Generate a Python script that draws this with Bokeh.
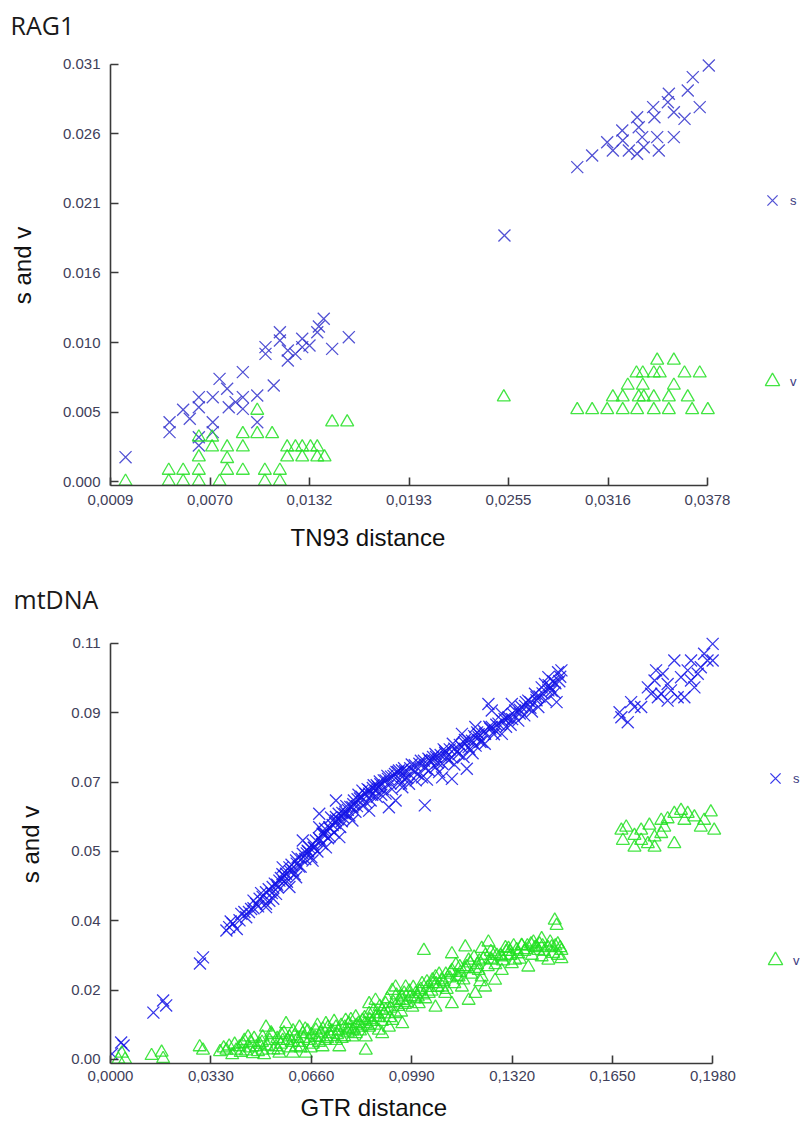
from bokeh.plotting import figure
from bokeh.models import Range1d, FixedTicker, Legend, LegendItem, Title
from bokeh.layouts import column
from bokeh.embed import file_html
from bokeh.resources import INLINE

# ---------------- RAG1 data ----------------
rag_s_x = [0.00183, 0.00455, 0.00455, 0.00539, 0.00580, 0.00636, 0.00636, 0.00636, 0.00636,
           0.00722, 0.00722, 0.00722, 0.00764, 0.00811, 0.00821, 0.00863, 0.00908, 0.00908,
           0.00908, 0.00997, 0.00997, 0.01048, 0.01048, 0.01099, 0.01137, 0.01137, 0.01186,
           0.01186, 0.01233, 0.01275, 0.01275, 0.01320, 0.01368, 0.01378, 0.01408, 0.01460,
           0.01563, 0.02525,
           0.02975, 0.03067, 0.03160, 0.03195, 0.03253, 0.03256, 0.03294, 0.03345, 0.03355,
           0.03376, 0.03345, 0.03386, 0.03444, 0.03452, 0.03469, 0.03479, 0.03541, 0.03535,
           0.03572, 0.03572, 0.03638, 0.03658, 0.03689, 0.03732, 0.03788]
rag_s_y = [0.00181, 0.00441, 0.00367, 0.00533, 0.00466, 0.00627, 0.00552, 0.00268, 0.00329,
           0.00627, 0.00441, 0.00367, 0.00763, 0.00689, 0.00552, 0.00590, 0.00813, 0.00627,
           0.00540, 0.00639, 0.00441, 0.00999, 0.00949, 0.00714, 0.01110, 0.01048, 0.00974,
           0.00900, 0.00949, 0.01061, 0.00999, 0.01011, 0.01110, 0.01152, 0.01210, 0.00986,
           0.01073, 0.01829,
           0.02337, 0.02423, 0.02522, 0.02461, 0.02609, 0.02535, 0.02461, 0.02708, 0.02634,
           0.02560, 0.02436, 0.02485, 0.02783, 0.02708, 0.02560, 0.02461, 0.02882, 0.02820,
           0.02745, 0.02560, 0.02696, 0.02907, 0.03006, 0.02783, 0.03093]

rag_v_x = [0.00183, 0.00450, 0.00450, 0.00539, 0.00539, 0.00636, 0.00636, 0.00636, 0.00636,
           0.00718, 0.00718, 0.00764, 0.00811, 0.00811, 0.00811, 0.00908, 0.00908, 0.00908,
           0.00997, 0.00997, 0.01044, 0.01044, 0.01089, 0.01137, 0.01137, 0.01182, 0.01182,
           0.01233, 0.01275, 0.01275, 0.01326, 0.01368, 0.01368, 0.01413, 0.01460, 0.01553,
           0.02521,
           0.02975, 0.03067, 0.03160, 0.03256, 0.03345, 0.03448, 0.03541, 0.03685, 0.03782,
           0.03195, 0.03256, 0.03355, 0.03386, 0.03448, 0.03541, 0.03658,
           0.03287, 0.03380, 0.03572,
           0.03341, 0.03380, 0.03448, 0.03485, 0.03638, 0.03732,
           0.03469, 0.03572]
rag_v_y = [0.0, 0.00082, 0.0, 0.00082, 0.0, 0.00082, 0.0, 0.00181, 0.00329,
           0.00329, 0.00255, 0.0, 0.00255, 0.00169, 0.00082, 0.00354, 0.00255, 0.00082,
           0.00528, 0.00354, 0.00082, 0.0, 0.00354, 0.00082, 0.0, 0.00255, 0.00181,
           0.00255, 0.00181, 0.00255, 0.00255, 0.00255, 0.00181, 0.00181, 0.00441, 0.00441,
           0.00627,
           0.00533, 0.00533, 0.00533, 0.00533, 0.00533, 0.00533, 0.00533, 0.00533, 0.00533,
           0.00627, 0.00627, 0.00627, 0.00627, 0.00627, 0.00627, 0.00627,
           0.00714, 0.00714, 0.00714,
           0.00805, 0.00805, 0.00805, 0.00805, 0.00805, 0.00805,
           0.00900, 0.00900]

rag_xticks = [0.0009, 0.00705, 0.0132, 0.01935, 0.0255, 0.03165, 0.0378]
rag_xlabels = ["0,0009", "0,0070", "0,0132", "0,0193", "0,0255", "0,0316", "0,0378"]
rag_yticks = [0.0, 0.0051667, 0.0103333, 0.0155, 0.0206667, 0.0258333, 0.031]
rag_ylabels = ["0.000", "0.005", "0.010", "0.016", "0.021", "0.026", "0.031"]

# ---------------- mtDNA data ----------------
mt_s_x = [0.0005, 0.0043, 0.0035, 0.0141, 0.0173, 0.0183, 0.0294, 0.0304,
          0.0381, 0.0402, 0.0424, 0.0446, 0.0462, 0.0479, 0.0511, 0.0511, 0.0533, 0.0555,
          0.0577, 0.0588, 0.0610, 0.0632, 0.0653, 0.0675, 0.0697, 0.0719, 0.0741,
          0.0511, 0.0544, 0.0588, 0.0522, 0.0610, 0.0664, 0.0708, 0.0752, 0.0566, 0.0632, 0.0686,
          0.0390, 0.0440, 0.0470, 0.0490, 0.0500, 0.0530, 0.0540, 0.0560, 0.0570, 0.0600,
          0.0620, 0.0640, 0.0650, 0.0670, 0.0690, 0.0700, 0.0720, 0.0730, 0.0760, 0.0770,
          0.0780, 0.0810, 0.0820, 0.0840, 0.0860, 0.0880, 0.0890, 0.0920, 0.0930, 0.0950,
          0.0795, 0.0850, 0.0904, 0.0948, 0.0741, 0.0828, 0.0871, 0.0904, 0.0937, 0.0795,
          0.0686, 0.0850, 0.0915, 0.0741,
          0.0959, 0.0981, 0.1003, 0.1024, 0.1046, 0.1068, 0.1090, 0.1111, 0.1122, 0.1144,
          0.1155, 0.1177, 0.1188, 0.1210, 0.1231, 0.1242, 0.1253, 0.1275, 0.1286, 0.1308,
          0.1330, 0.1351, 0.1373, 0.1395, 0.1417, 0.1428, 0.1439, 0.1466, 0.1471, 0.1482,
          0.1033, 0.1122, 0.1171, 0.1253, 0.1319, 0.1230, 0.1340, 0.1406, 0.1439, 0.1286,
          0.1199, 0.1155, 0.1068, 0.1090,
          0.1050, 0.1100, 0.1130, 0.1160, 0.1200, 0.1000, 0.0970, 0.1040, 0.1080, 0.1190,
          0.1220, 0.1260, 0.1300, 0.1320, 0.1360, 0.1380, 0.1400, 0.1440, 0.1455, 0.1460,
          0.0395, 0.0415, 0.0430, 0.0455, 0.0470, 0.0485, 0.0495, 0.0520, 0.0535, 0.0550,
          0.0565, 0.0580, 0.0595, 0.0605, 0.0615, 0.0625, 0.0645, 0.0660, 0.0665, 0.0680,
          0.0695, 0.0705, 0.0715, 0.0725, 0.0735, 0.0750, 0.0755, 0.0765, 0.0775, 0.0785,
          0.0800, 0.0805, 0.0815, 0.0830, 0.0845, 0.0855, 0.0865, 0.0875, 0.0885, 0.0895,
          0.0910, 0.0925, 0.0940, 0.0955, 0.0965, 0.0975, 0.0990, 0.1010, 0.1020, 0.1035,
          0.1060, 0.1075, 0.1095, 0.1105, 0.1125, 0.1140, 0.1165, 0.1180, 0.1205, 0.1215,
          0.1245, 0.1265, 0.1295, 0.1315, 0.1345, 0.1365, 0.1385, 0.1410, 0.1430, 0.1450,
          0.1475,
          0.0548, 0.0572, 0.0590, 0.0612, 0.0628, 0.0648, 0.0668, 0.0685, 0.0702, 0.0722,
          0.0738, 0.0748, 0.0762, 0.0772, 0.0788, 0.0798, 0.0812, 0.0825, 0.0838, 0.0850,
          0.0862, 0.0875, 0.0887, 0.0898, 0.0912, 0.0922, 0.0935, 0.0945, 0.0958, 0.0968,
          0.0985, 0.1000, 0.1015, 0.1030, 0.1045, 0.1058, 0.1070, 0.1085, 0.1100, 0.1115,
          0.1130, 0.1148, 0.1162, 0.1175, 0.1195, 0.1210, 0.1228, 0.1248, 0.1268, 0.1288,
          0.1305, 0.1325, 0.1345, 0.1362, 0.1380, 0.1400, 0.1420, 0.1445, 0.1462, 0.1478,
          0.1673, 0.1700, 0.1679, 0.1711, 0.1744, 0.1766, 0.1788, 0.1810, 0.1831, 0.1853,
          0.1875, 0.1897, 0.1908, 0.1919, 0.1940, 0.1951, 0.1979, 0.1979, 0.1864, 0.1831,
          0.1886, 0.1908, 0.1793, 0.1815, 0.1722, 0.1777, 0.1799, 0.1842, 0.1930, 0.1962]
mt_s_y = [0.0015, 0.0037, 0.0045, 0.0124, 0.0156, 0.0143, 0.0254, 0.0270,
          0.0341, 0.0359, 0.0368, 0.0376, 0.0398, 0.0412, 0.0412, 0.0442, 0.0456, 0.0473,
          0.0491, 0.0508, 0.0526, 0.0544, 0.0561, 0.0579, 0.0597, 0.0614, 0.0632,
          0.0403, 0.0438, 0.0456, 0.0420, 0.0482, 0.0526, 0.0561, 0.0588, 0.0508, 0.0579, 0.0614,
          0.0350, 0.0390, 0.0400, 0.0425, 0.0430, 0.0440, 0.0465, 0.0480, 0.0470, 0.0500,
          0.0510, 0.0530, 0.0550, 0.0560, 0.0580, 0.0600, 0.0590, 0.0620, 0.0630, 0.0650,
          0.0660, 0.0670, 0.0690, 0.0680, 0.0700, 0.0720, 0.0700, 0.0730, 0.0750, 0.0740,
          0.0667, 0.0703, 0.0738, 0.0764, 0.0685, 0.0711, 0.0711, 0.0703, 0.0685, 0.0632,
          0.0650, 0.0658, 0.0667, 0.0641,
          0.0720, 0.0729, 0.0738, 0.0746, 0.0764, 0.0773, 0.0782, 0.0791, 0.0799, 0.0808,
          0.0826, 0.0826, 0.0843, 0.0852, 0.0861, 0.0940, 0.0879, 0.0888, 0.0914, 0.0905,
          0.0923, 0.0932, 0.0949, 0.0967, 0.0984, 0.0993, 0.0976, 0.0945, 0.1024, 0.1029,
          0.0672, 0.0742, 0.0769, 0.0923, 0.0940, 0.0835, 0.0896, 0.0932, 0.1011, 0.0861,
          0.0879, 0.0861, 0.0808, 0.0746,
          0.0790, 0.0810, 0.0780, 0.0800, 0.0830, 0.0760, 0.0745, 0.0740, 0.0760, 0.0810,
          0.0840, 0.0860, 0.0880, 0.0900, 0.0910, 0.0930, 0.0950, 0.0990, 0.1000, 0.0970,
          0.0365, 0.0345, 0.0385, 0.0390, 0.0420, 0.0405, 0.0440, 0.0450, 0.0425, 0.0455,
          0.0490, 0.0470, 0.0515, 0.0490, 0.0535, 0.0510, 0.0545, 0.0535, 0.0570, 0.0550,
          0.0570, 0.0610, 0.0585, 0.0640, 0.0600, 0.0650, 0.0615, 0.0640, 0.0670, 0.0645,
          0.0685, 0.0655, 0.0700, 0.0670, 0.0715, 0.0685, 0.0725, 0.0695, 0.0735, 0.0715,
          0.0750, 0.0715, 0.0760, 0.0730, 0.0770, 0.0745, 0.0780, 0.0755, 0.0790, 0.0770,
          0.0800, 0.0785, 0.0820, 0.0800, 0.0835, 0.0815, 0.0845, 0.0820, 0.0865, 0.0840,
          0.0880, 0.0870, 0.0900, 0.0885, 0.0915, 0.0945, 0.0920, 0.0960, 0.0950, 0.0975,
          0.1000,
          0.0462, 0.0485, 0.0498, 0.0518, 0.0530, 0.0552, 0.0560, 0.0585, 0.0595, 0.0610,
          0.0625, 0.0635, 0.0652, 0.0655, 0.0668, 0.0675, 0.0688, 0.0695, 0.0702, 0.0712,
          0.0718, 0.0725, 0.0728, 0.0738, 0.0742, 0.0748, 0.0755, 0.0760, 0.0765, 0.0762,
          0.0770, 0.0778, 0.0782, 0.0790, 0.0795, 0.0792, 0.0800, 0.0805, 0.0815, 0.0820,
          0.0822, 0.0832, 0.0838, 0.0845, 0.0855, 0.0860, 0.0868, 0.0875, 0.0885, 0.0895,
          0.0902, 0.0912, 0.0925, 0.0935, 0.0945, 0.0958, 0.0968, 0.0985, 0.0995, 0.1012,
          0.0918, 0.0892, 0.0905, 0.0945, 0.0932, 0.0984, 0.1002, 0.0967, 0.0993, 0.1055,
          0.1011, 0.1029, 0.1055, 0.0984, 0.1037, 0.1073, 0.1099, 0.1055, 0.0958, 0.0949,
          0.0958, 0.1002, 0.1029, 0.1020, 0.0932, 0.0967, 0.0958, 0.0976, 0.1020, 0.1055]

mt_v_x = [0.0026, 0.0048, 0.0037, 0.0135, 0.0168, 0.0173, 0.0293, 0.0304,
          0.0381, 0.0413, 0.0435, 0.0452, 0.0479, 0.0511, 0.0523, 0.0544, 0.0577, 0.0588,
          0.0610, 0.0632, 0.0653, 0.0675, 0.0697, 0.0719, 0.0741, 0.0752, 0.0784, 0.0806,
          0.0828, 0.0850, 0.0871, 0.0893, 0.0915, 0.0850, 0.0871, 0.0926, 0.0937, 0.0904,
          0.0948, 0.0926,
          0.0424, 0.0468, 0.0500, 0.0555, 0.0599, 0.0642, 0.0500, 0.0566, 0.0621, 0.0686,
          0.0741, 0.0795, 0.0839, 0.0882, 0.0708, 0.0773, 0.0806, 0.0850, 0.0893, 0.0937,
          0.0839,
          0.0959, 0.0970, 0.1030, 0.1122, 0.1166, 0.1220, 0.1242, 0.1308, 0.1351, 0.1390,
          0.1417, 0.1460, 0.1466, 0.1471, 0.1482, 0.1439, 0.1373, 0.1319, 0.1286, 0.1264,
          0.1231, 0.1199, 0.1177, 0.1122, 0.1068, 0.1013, 0.0992, 0.0959, 0.1090, 0.1144,
          0.1210, 0.1253, 0.1177, 0.1122, 0.1068, 0.1024, 0.1003, 0.1046, 0.1100, 0.1155,
          0.1220, 0.1286, 0.1340, 0.1406, 0.1450, 0.1482, 0.1330, 0.1417,
          0.0360, 0.0390, 0.0400, 0.0445, 0.0460, 0.0490, 0.0505, 0.0530, 0.0535, 0.0560,
          0.0570, 0.0595, 0.0600, 0.0615, 0.0625, 0.0640, 0.0660, 0.0665, 0.0680, 0.0690,
          0.0705, 0.0715, 0.0725, 0.0735, 0.0750, 0.0760, 0.0770, 0.0780, 0.0790, 0.0800,
          0.0815, 0.0820, 0.0835, 0.0845, 0.0860, 0.0865, 0.0880, 0.0885, 0.0900, 0.0910,
          0.0920, 0.0940, 0.0955, 0.0965, 0.0975, 0.0985, 0.0995, 0.1010, 0.1020, 0.1035,
          0.1040, 0.1055, 0.1060, 0.1075, 0.1080, 0.1095, 0.1105, 0.1115, 0.1130, 0.1135,
          0.1150, 0.1160, 0.1170, 0.1185, 0.1195, 0.1205, 0.1215, 0.1225, 0.1240, 0.1250,
          0.1265, 0.1270, 0.1290, 0.1300, 0.1315, 0.1325, 0.1345, 0.1360, 0.1370, 0.1385,
          0.1395, 0.1410, 0.1425, 0.1445, 0.1455, 0.1470, 0.1478,
          0.0372, 0.0408, 0.0428, 0.0440, 0.0458, 0.0472, 0.0485, 0.0498, 0.0515, 0.0528,
          0.0548, 0.0552, 0.0562, 0.0582, 0.0592, 0.0605, 0.0620, 0.0635, 0.0648, 0.0658,
          0.0672, 0.0685, 0.0698, 0.0712, 0.0728, 0.0745, 0.0758, 0.0768, 0.0782, 0.0795,
          0.0808, 0.0825, 0.0838, 0.0852, 0.0868, 0.0878, 0.0892, 0.0905, 0.0918, 0.0930,
          0.0945, 0.0958, 0.0968, 0.0982, 0.1000, 0.1015, 0.1028, 0.1042, 0.1058, 0.1070,
          0.1088, 0.1102, 0.1118, 0.1138, 0.1148, 0.1165, 0.1182, 0.1198, 0.1212, 0.1232,
          0.1248, 0.1262, 0.1282, 0.1298, 0.1312, 0.1335, 0.1352, 0.1365, 0.1382, 0.1400,
          0.1420, 0.1438, 0.1462,
          0.1695, 0.1684, 0.1722, 0.1744, 0.1771, 0.1766, 0.1788, 0.1810, 0.1831, 0.1853,
          0.1875, 0.1897, 0.1919, 0.1951, 0.1973, 0.1984, 0.1853, 0.1820, 0.1788, 0.1722,
          0.1744, 0.1886, 0.1940, 0.1810, 0.1679]
mt_v_y = [0.0, 0.0, 0.0016, 0.0010, 0.0019, 0.0002, 0.0033, 0.0024,
          0.0024, 0.0024, 0.0041, 0.0059, 0.0033, 0.0085, 0.0050, 0.0033, 0.0094, 0.0059,
          0.0033, 0.0068, 0.0050, 0.0077, 0.0033, 0.0068, 0.0085, 0.0033, 0.0094, 0.0068,
          0.0103, 0.0085, 0.0112, 0.0068, 0.0085, 0.0147, 0.0156, 0.0182, 0.0191, 0.0147,
          0.0156, 0.0103,
          0.0033, 0.0015, 0.0024, 0.0016, 0.0016, 0.0016, 0.0059, 0.0050, 0.0085, 0.0059,
          0.0050, 0.0059, 0.0059, 0.0077, 0.0094, 0.0103, 0.0112, 0.0121, 0.0130, 0.0121,
          0.0024,
          0.0094, 0.0191, 0.0288, 0.0279, 0.0297, 0.0293, 0.0310, 0.0293, 0.0301, 0.0310,
          0.0319, 0.0368, 0.0354, 0.0275, 0.0266, 0.0262, 0.0244, 0.0253, 0.0235, 0.0209,
          0.0191, 0.0174, 0.0156, 0.0147, 0.0138, 0.0147, 0.0138, 0.0156, 0.0191, 0.0218,
          0.0235, 0.0262, 0.0262, 0.0235, 0.0218, 0.0200, 0.0174, 0.0174, 0.0174, 0.0191,
          0.0218, 0.0271, 0.0279, 0.0288, 0.0297, 0.0288, 0.0262, 0.0271,
          0.0020, 0.0035, 0.0012, 0.0022, 0.0045, 0.0040, 0.0012, 0.0065, 0.0025, 0.0040,
          0.0070, 0.0045, 0.0075, 0.0055, 0.0030, 0.0080, 0.0065, 0.0040, 0.0090, 0.0070,
          0.0050, 0.0085, 0.0060, 0.0100, 0.0075, 0.0055, 0.0085, 0.0070, 0.0105, 0.0080,
          0.0095, 0.0075, 0.0110, 0.0090, 0.0100, 0.0130, 0.0110, 0.0140, 0.0120, 0.0160,
          0.0135, 0.0170, 0.0125, 0.0175, 0.0150, 0.0165, 0.0190, 0.0165, 0.0185, 0.0160,
          0.0205, 0.0180, 0.0200, 0.0190, 0.0225, 0.0205, 0.0185, 0.0215, 0.0200, 0.0250,
          0.0230, 0.0210, 0.0245, 0.0225, 0.0270, 0.0250, 0.0205, 0.0265, 0.0245, 0.0285,
          0.0250, 0.0275, 0.0260, 0.0285, 0.0275, 0.0300, 0.0265, 0.0285, 0.0300, 0.0275,
          0.0295, 0.0305, 0.0285, 0.0310, 0.0280, 0.0305, 0.0295,
          0.0030, 0.0040, 0.0018, 0.0050, 0.0030, 0.0055, 0.0020, 0.0045, 0.0035, 0.0070,
          0.0055, 0.0025, 0.0065, 0.0050, 0.0030, 0.0062, 0.0045, 0.0055, 0.0075, 0.0030,
          0.0058, 0.0045, 0.0080, 0.0055, 0.0075, 0.0065, 0.0090, 0.0060, 0.0080, 0.0075,
          0.0090, 0.0085, 0.0095, 0.0105, 0.0090, 0.0120, 0.0100, 0.0130, 0.0110, 0.0150,
          0.0140, 0.0165, 0.0145, 0.0180, 0.0160, 0.0180, 0.0170, 0.0190, 0.0210, 0.0200,
          0.0210, 0.0225, 0.0230, 0.0220, 0.0245, 0.0240, 0.0255, 0.0240, 0.0260, 0.0275,
          0.0265, 0.0280, 0.0275, 0.0295, 0.0285, 0.0290, 0.0300, 0.0290, 0.0305, 0.0298,
          0.0300, 0.0295, 0.0300,
          0.0614, 0.0579, 0.0592, 0.0579, 0.0619, 0.0570, 0.0588, 0.0597, 0.0636, 0.0650,
          0.0658, 0.0650, 0.0641, 0.0632, 0.0654, 0.0606, 0.0570, 0.0614, 0.0561, 0.0561,
          0.0606, 0.0632, 0.0614, 0.0632, 0.0606]

mt_xticks = [0.0, 0.033, 0.066, 0.099, 0.132, 0.165, 0.198]
mt_xlabels = ["0,0000", "0,0330", "0,0660", "0,0990", "0,1320", "0,1650", "0,1980"]
mt_yticks = [0.0, 0.0183333, 0.0366667, 0.055, 0.0733333, 0.0916667, 0.11]
mt_ylabels = ["0.00", "0.02", "0.04", "0.05", "0.07", "0.09", "0.11"]

LABEL_FONT = "Liberation Sans"
TICK_COLOR = "#40405a"
AXIS_COLOR = "#3a3a3a"
V_COLOR = "#22e022"


def make_plot(title, xr, yr, height, mb_top, mb_bottom, mb_left, title_offset, title_standoff,
              sx, sy, vx, vy, xticks, xlabels, yticks, ylabels, xlab, xlab_offset, xlab_standoff,
              xtick_standoff, legend_loc, legend_spacing, s_color, s_alpha):
    p = figure(width=800, height=height, x_range=Range1d(*xr), y_range=Range1d(*yr),
               output_backend="svg", toolbar_location=None,
               min_border_top=mb_top, min_border_bottom=mb_bottom,
               min_border_left=mb_left, min_border_right=0)
    p.outline_line_color = None
    p.grid.visible = False
    p.background_fill_color = "white"

    p.title.text = title
    p.title.align = "left"
    p.title.offset = title_offset
    p.title.standoff = title_standoff
    p.title.text_font = "Open Sans"
    p.title.text_font_size = "25px"
    p.title.text_font_style = "normal"
    p.title.text_color = "#1a1a1a"

    xa = p.xaxis[0]
    ya = p.yaxis[0]
    xa.ticker = FixedTicker(ticks=xticks)
    xa.major_label_overrides = dict(zip(xticks, xlabels))
    ya.ticker = FixedTicker(ticks=yticks)
    ya.major_label_overrides = dict(zip(yticks, ylabels))
    xa.bounds = (xticks[0], xticks[-1])
    ya.bounds = (yr[0], yticks[-1])
    for ax in (xa, ya):
        ax.axis_line_color = AXIS_COLOR
        ax.axis_line_width = 1.6
        ax.major_tick_line_color = AXIS_COLOR
        ax.major_tick_line_width = 1.6
        ax.major_tick_in = 8
        ax.major_tick_out = 0
        ax.minor_tick_line_color = None
        ax.major_label_text_font = LABEL_FONT
        ax.major_label_text_font_size = "15px"
        ax.major_label_text_color = TICK_COLOR
    xa.major_label_standoff = xtick_standoff
    ya.major_label_standoff = 10
    ya.axis_label = "s and v"
    ya.axis_label_text_font = LABEL_FONT
    ya.axis_label_text_font_size = "24px"
    ya.axis_label_text_font_style = "normal"
    ya.axis_label_text_color = "#111111"
    ya.axis_label_standoff = 24

    p.add_layout(Title(text=xlab, align="left", offset=xlab_offset, standoff=xlab_standoff,
                       text_font=LABEL_FONT, text_font_size="24px", text_font_style="normal",
                       text_color="#111111"), "below")

    rs = p.scatter(sx, sy, marker="x", size=17, line_color=s_color, line_width=1.3,
                   line_alpha=s_alpha)
    rv = p.scatter(vx, vy, marker="triangle", size=13, fill_color=None, line_color=V_COLOR,
                   line_width=1.3, line_alpha=0.85)

    leg = Legend(items=[LegendItem(label="s", renderers=[rs]),
                        LegendItem(label="v", renderers=[rv])],
                 location=legend_loc, orientation="vertical", spacing=legend_spacing,
                 padding=0, margin=0, glyph_width=36, glyph_height=36,
                 label_standoff=0, label_height=14, label_text_font=LABEL_FONT,
                 label_text_font_size="13px", label_text_color="#3a3a80",
                 background_fill_alpha=0, border_line_alpha=0)
    p.add_layout(leg)
    return p


# top: frame x 110..800, y 45..485 ; bottom: frame x 107..800, y 625..1063 (page 569..1133)
p1 = make_plot("RAG1", (0.0009, 0.043548), (-0.000297, 0.032412), 569, 45, 84, 110, -100, 8,
               rag_s_x, rag_s_y, rag_v_x, rag_v_y, rag_xticks, rag_xlabels, rag_yticks, rag_ylabels,
               "TN93 distance", 180, 28, 9, (644, 86), 145, "#3434cc", 0.85)
p2 = make_plot("mtDNA", (0.0, 0.226767), (-0.001058, 0.114759), 564, 56, 70, 107, -97, 19,
               mt_s_x, mt_s_y, mt_v_x, mt_v_y, mt_xticks, mt_xlabels, mt_yticks, mt_ylabels,
               "GTR distance", 190, 16, 7, (647, 85), 146, "#1414e6", 0.85)

layout = column(p1, p2, spacing=0)
open("out.html", "w").write(file_html(layout, INLINE))
